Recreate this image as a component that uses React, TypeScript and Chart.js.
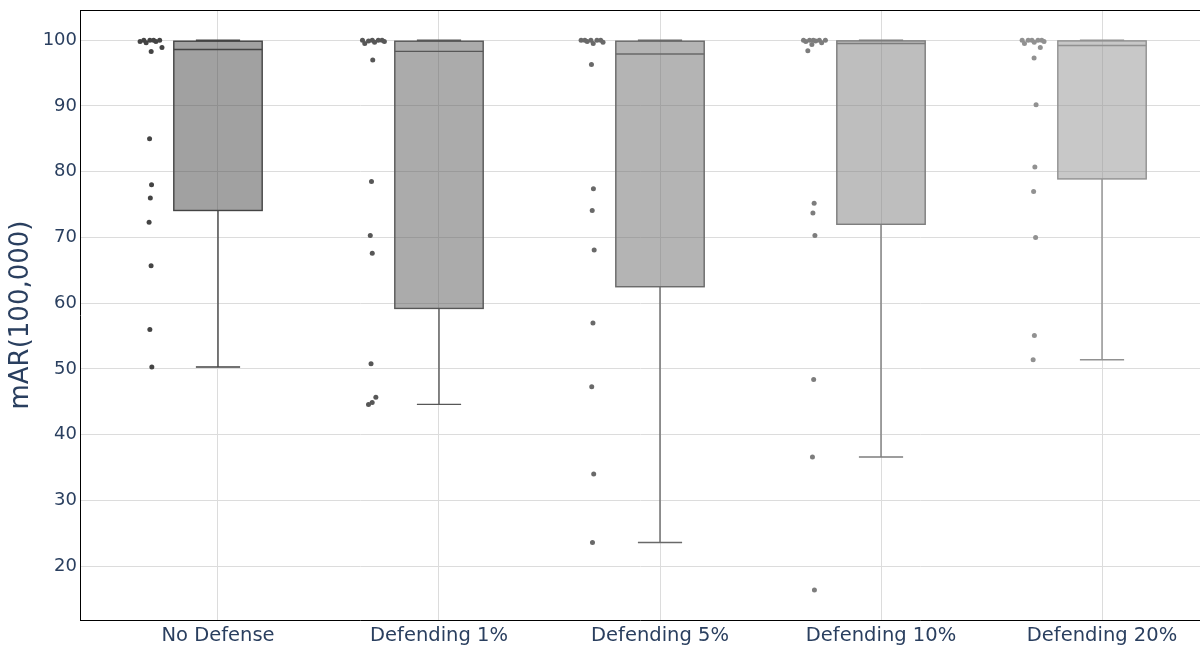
import React, { useEffect, useRef } from "react";
import { Chart, registerables } from "chart.js";

Chart.register(...registerables);

const categories = ["No Defense", "Defending 1%", "Defending 5%", "Defending 10%", "Defending 20%"];

// box statistics
const lowerWhisker = [50.3, 44.6, 23.6, 36.6, 51.4];
const q1 = [74.1, 59.2, 62.5, 72.0, 78.9];
const median = [98.6, 98.3, 97.9, 99.5, 99.2];
const q3 = [99.85, 99.85, 99.85, 99.9, 99.9];
const upperWhisker = [100, 100, 100, 100, 100];

// individual points
const ptsNoDefense = [100, 100, 100, 100, 99.8, 99.8, 99.6, 98.9, 98.3, 85.0, 78.0, 76.0, 72.3, 65.7, 56.0, 50.3];
const ptsDef1 = [100, 100, 100, 100, 99.9, 99.8, 99.7, 99.5, 97.0, 78.5, 70.3, 67.6, 50.8, 45.7, 44.9, 44.6];
const ptsDef5 = [100, 100, 100, 100, 100, 99.8, 99.7, 99.5, 96.3, 77.4, 74.1, 68.1, 57.0, 47.3, 34.0, 23.6];
const ptsDef10 = [100, 100, 100, 100, 100, 99.9, 99.8, 99.6, 99.35, 98.4, 75.2, 73.7, 70.3, 48.4, 36.6, 16.35];
const ptsDef20 = [100, 100, 100, 100, 100, 99.8, 99.7, 99.5, 98.9, 97.3, 90.2, 80.7, 77.0, 70.0, 55.1, 51.4];
const points = [ptsNoDefense, ptsDef1, ptsDef5, ptsDef10, ptsDef20];

const yTicks = [20, 30, 40, 50, 60, 70, 80, 90, 100];

const grays = [68, 87, 105, 125, 145];
const TEXT = "#2a3f5f";
const FONT = "'DejaVu Sans', sans-serif";
const BOX_HALF = 0.2;
const POINT_POS = -0.305;

// low-discrepancy spread in [-1, 1] for jitter
function spread(i: number, g: number) {
  const s = (i + 1) * 0.618034 + g * 0.29;
  return (s - Math.floor(s)) * 2 - 1;
}

function jitter(vals: number[], i: number, g: number) {
  const count = vals.filter((v) => Math.abs(v - vals[i]) < 1.5).length;
  const amp = 0.058 * Math.min(1, count / 8);
  return amp * spread(i, g);
}

const boxPlugin = {
  id: "boxes",
  beforeDatasetsDraw(chart: any) {
    const { ctx, scales } = chart;
    const xs = scales.x;
    const ys = scales.y;
    ctx.save();
    categories.forEach((_, i) => {
      const c = grays[i];
      const cx = xs.getPixelForValue(i);
      const half = Math.abs(xs.getPixelForValue(i + BOX_HALF) - cx);
      const yq1 = ys.getPixelForValue(q1[i]);
      const yq3 = ys.getPixelForValue(q3[i]);
      const ymed = ys.getPixelForValue(median[i]);
      const ylo = ys.getPixelForValue(lowerWhisker[i]);
      const yhi = ys.getPixelForValue(upperWhisker[i]);
      ctx.fillStyle = `rgba(${c},${c},${c},0.5)`;
      ctx.strokeStyle = `rgb(${c},${c},${c})`;
      ctx.lineWidth = 1.4;
      ctx.fillRect(cx - half, yq3, 2 * half, yq1 - yq3);
      ctx.strokeRect(cx - half, yq3, 2 * half, yq1 - yq3);
      ctx.beginPath();
      ctx.moveTo(cx - half, ymed);
      ctx.lineTo(cx + half, ymed);
      ctx.moveTo(cx, yq1);
      ctx.lineTo(cx, ylo);
      ctx.moveTo(cx, yq3);
      ctx.lineTo(cx, yhi);
      ctx.moveTo(cx - half / 2, ylo);
      ctx.lineTo(cx + half / 2, ylo);
      ctx.moveTo(cx - half / 2, yhi);
      ctx.lineTo(cx + half / 2, yhi);
      ctx.stroke();
    });
    ctx.restore();
  },
  afterDraw(chart: any) {
    const { ctx, chartArea } = chart;
    ctx.save();
    ctx.strokeStyle = "#000";
    ctx.lineWidth = 1;
    ctx.beginPath();
    ctx.moveTo(chartArea.left, chartArea.top + 0.5);
    ctx.lineTo(chartArea.right, chartArea.top + 0.5);
    ctx.stroke();
    ctx.restore();
  },
};

function zeroPad(scale: any) {
  scale.paddingTop = 0;
  scale.paddingBottom = 0;
  scale.paddingLeft = 0;
  scale.paddingRight = 0;
}

export default function App() {
  const ref = useRef<HTMLCanvasElement>(null);
  useEffect(() => {
    if (!ref.current) return;
    const datasets = points.map((vals, g) => ({
      type: "scatter" as const,
      label: categories[g],
      data: vals.map((v, i) => ({ x: g + POINT_POS + jitter(vals, i, g), y: v })),
      pointRadius: 2.5,
      pointBorderWidth: 0,
      pointBackgroundColor: `rgb(${grays[g]},${grays[g]},${grays[g]})`,
      showLine: false,
    }));
    const chart = new Chart(ref.current, {
      type: "scatter",
      data: { datasets },
      options: {
        animation: false,
        responsive: false,
        devicePixelRatio: 1,
        layout: { padding: { top: 10, right: 0, left: 0, bottom: 0 } },
        plugins: { legend: { display: false }, tooltip: { enabled: false } },
        scales: {
          x: {
            type: "linear",
            min: -0.6244,
            max: 4.4434,
            afterBuildTicks: (scale: any) => {
              scale.ticks = categories.map((_, i) => ({ value: i }));
            },
            afterFit: (scale: any) => {
              scale.height = 26;
              zeroPad(scale);
            },
            ticks: {
              callback: (v: any) => categories[v as number] ?? "",
              color: TEXT,
              font: { family: FONT, size: 19.5 },
              padding: 4,
              maxRotation: 0,
              autoSkip: false,
            },
            grid: { color: "#dcdcdc", drawTicks: false, lineWidth: 1 },
            border: { display: true, color: "#000", width: 1 },
          },
          y: {
            min: 11.8,
            max: 104.6,
            afterBuildTicks: (scale: any) => {
              scale.ticks = yTicks.map((v) => ({ value: v }));
            },
            afterFit: (scale: any) => {
              scale.width = 80;
              zeroPad(scale);
            },
            ticks: {
              color: TEXT,
              font: { family: FONT, size: 18 },
              padding: 3,
            },
            grid: { color: "#dcdcdc", drawTicks: false, lineWidth: 1 },
            border: { display: true, color: "#000", width: 1 },
            title: {
              display: true,
              text: "mAR(100,000)",
              color: TEXT,
              font: { family: FONT, size: 26 },
              padding: { top: 6, bottom: 0 },
            },
          },
        },
      },
      plugins: [boxPlugin],
    });
    return () => chart.destroy();
  }, []);
  return (
    <div style={{ position: "absolute", left: 0, top: 0, width: 1200, height: 646, overflow: "hidden", background: "#fff" }}>
      <canvas ref={ref} width={1204} height={646} style={{ display: "block" }} />
    </div>
  );
}
